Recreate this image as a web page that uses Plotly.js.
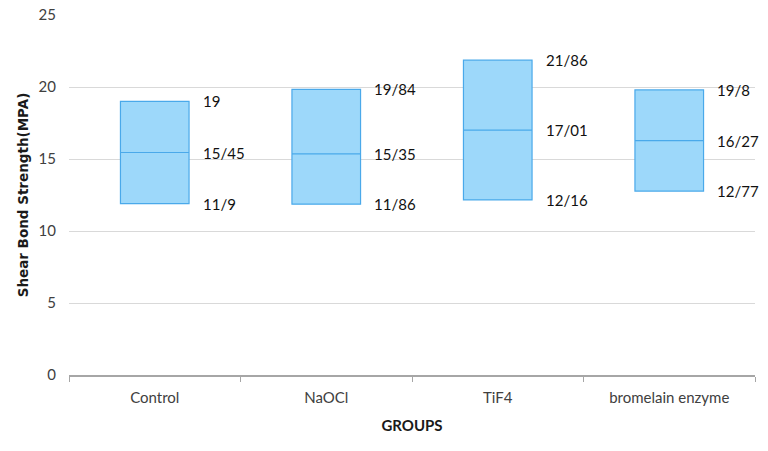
<!DOCTYPE html>
<html>
<head>
<meta charset="utf-8">
<script src="https://cdn.plot.ly/plotly-3.0.1.min.js"></script>
<style>html,body{margin:0;padding:0;background:#fff;}#chart{width:768px;height:451px;}</style>
</head>
<body>
<div id="chart"></div>
<script>
const groups = ["Control", "NaOCl", "TiF4", "bromelain enzyme"];
const minVals = [11.9, 11.86, 12.16, 12.77];
const medianVals = [15.45, 15.35, 17.01, 16.27];
const maxVals = [19, 19.84, 21.86, 19.8];
const minLabels = ["11/9", "11/86", "12/16", "12/77"];
const medianLabels = ["15/45", "15/35", "17/01", "16/27"];
const maxLabels = ["19", "19/84", "21/86", "19/8"];
const tickLabels = ["Control", "NaOCl", "TiF4", "bromelain enzyme"];

const boxTrace = {
  type: "box",
  x: groups,
  q1: minVals,
  median: medianVals,
  q3: maxVals,
  lowerfence: minVals,
  upperfence: maxVals,
  width: 0.4,
  fillcolor: "#9dd8fa",
  line: {color: "#4aa9ea", width: 1.2},
  whiskerwidth: 0,
  hoverinfo: "skip",
  showlegend: false
};

const annotations = [];
function addLabels(vals, labels) {
  vals.forEach((v, i) => {
    annotations.push({
      x: groups[i], y: v, text: labels[i], showarrow: false,
      xanchor: "left", yanchor: "middle", xshift: 46,
      font: {family: "Lato, 'Open Sans', sans-serif", size: 15, color: "#111111"}
    });
  });
}
addLabels(maxVals, maxLabels);
addLabels(medianVals, medianLabels);
addLabels(minVals, minLabels);

const layout = {
  width: 768, height: 451,
  margin: {l: 69, r: 13, t: 15, b: 76},
  paper_bgcolor: "#fff", plot_bgcolor: "#fff",
  font: {family: "Lato, 'Open Sans', sans-serif", color: "#404040", size: 12},
  showlegend: false,
  xaxis: {
    type: "category",
    range: [-0.5, 3.5],
    tickvals: groups, ticktext: tickLabels,
    tickson: "boundaries",
    ticks: "outside", ticklen: 5, tickcolor: "#a6a6a6",
    showline: true, linecolor: "#a6a6a6", linewidth: 1.5,
    showgrid: false, zeroline: false,
    ticklabelstandoff: 8,
    tickfont: {size: 15, color: "#404040"},
    title: {text: "GROUPS", font: {size: 15, color: "#1a1a1a", weight: "bold"}, standoff: 16}
  },
  yaxis: {
    range: [0, 25], dtick: 5, tick0: 0,
    showgrid: true, gridcolor: "#d9d9d9", gridwidth: 1,
    zeroline: false, showline: false, ticks: "",
    ticklabelstandoff: 12,
    tickfont: {size: 15, color: "#404040"},
    title: {text: "Shear Bond Strength(MPA)", font: {family: "'DejaVu Sans', sans-serif", size: 13.5, color: "#1a1a1a", weight: "bold"}, standoff: 6}
  },
  annotations: annotations
};

Plotly.newPlot("chart", [boxTrace], layout, {displayModeBar: false, staticPlot: true});
</script>
</body>
</html>
